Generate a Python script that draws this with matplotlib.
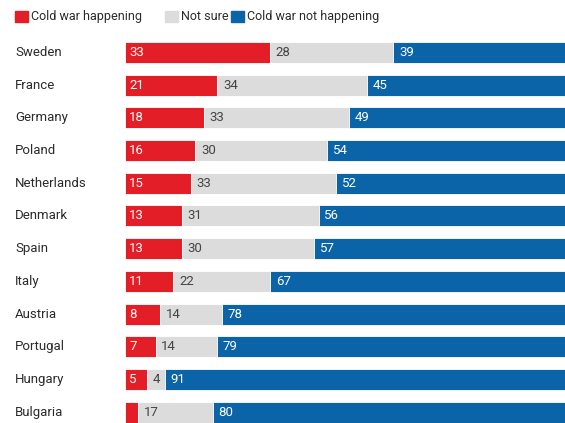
import matplotlib.pyplot as plt
import matplotlib.transforms as mtransforms
import numpy as np

# Survey data
countries = ["Sweden", "France", "Germany", "Poland", "Netherlands", "Denmark",
             "Spain", "Italy", "Austria", "Portugal", "Hungary", "Bulgaria"]
happening = [33, 21, 18, 16, 15, 13, 13, 11, 8, 7, 5, 3]
not_sure = [28, 34, 33, 30, 33, 31, 30, 22, 14, 14, 4, 17]
not_happening = [39, 45, 49, 54, 52, 56, 57, 67, 78, 79, 91, 80]

red = '#E31E26'
grey = '#DCDCDC'
blue = '#0B63A8'
font = ['Roboto', 'DejaVu Sans']

fig = plt.figure(figsize=(5.65, 4.23), dpi=100)
ax = fig.add_axes([125 / 565, 0, 1 - 125 / 565, 387 / 423])

y = np.arange(len(countries))
h = np.array(happening)
n = np.array(not_sure)
b = np.array(not_happening)

ax.barh(y, h, height=0.64, color=red, edgecolor='white', linewidth=0.6)
ax.barh(y, n, left=h, height=0.64, color=grey, edgecolor='white', linewidth=0.6)
ax.barh(y, b, left=h + n, height=0.64, color=blue, edgecolor='white', linewidth=0.6)

ax.set_xlim(0, 100)
ax.set_ylim(11.33, -0.5)
ax.axis('off')

# value labels
for i in range(len(countries)):
    if happening[i] >= 5:
        ax.annotate(str(happening[i]), (0, y[i]), xytext=(3, 0), textcoords='offset points',
                    va='center', ha='left', color='white', fontsize=9.5, family=font)
    ax.annotate(str(not_sure[i]), (h[i], y[i]), xytext=(4, 0), textcoords='offset points',
                va='center', ha='left', color='#444444', fontsize=9.5, family=font)
    ax.annotate(str(not_happening[i]), (h[i] + n[i], y[i]), xytext=(4, 0), textcoords='offset points',
                va='center', ha='left', color='white', fontsize=9.5, family=font)

# country names
trans = mtransforms.blended_transform_factory(fig.transFigure, ax.transData)
for i, c in enumerate(countries):
    ax.text(15 / 565, y[i], c, transform=trans, va='center', ha='left',
            color='#2b2b2b', fontsize=9.5, family=font)

# legend
legend_items = [(15, red, "Cold war happening"), (165, grey, "Not sure"),
                (231, blue, "Cold war not happening")]
for x0, col, label in legend_items:
    fig.patches.append(plt.Rectangle((x0 / 565, 1 - 22 / 423), 13 / 565, 11 / 423,
                                     transform=fig.transFigure, color=col))
    fig.text((x0 + 16) / 565, 1 - 16.5 / 423, label, va='center', ha='left',
             color='#2b2b2b', fontsize=9, family=font)

fig.savefig('out.png', dpi=100)
